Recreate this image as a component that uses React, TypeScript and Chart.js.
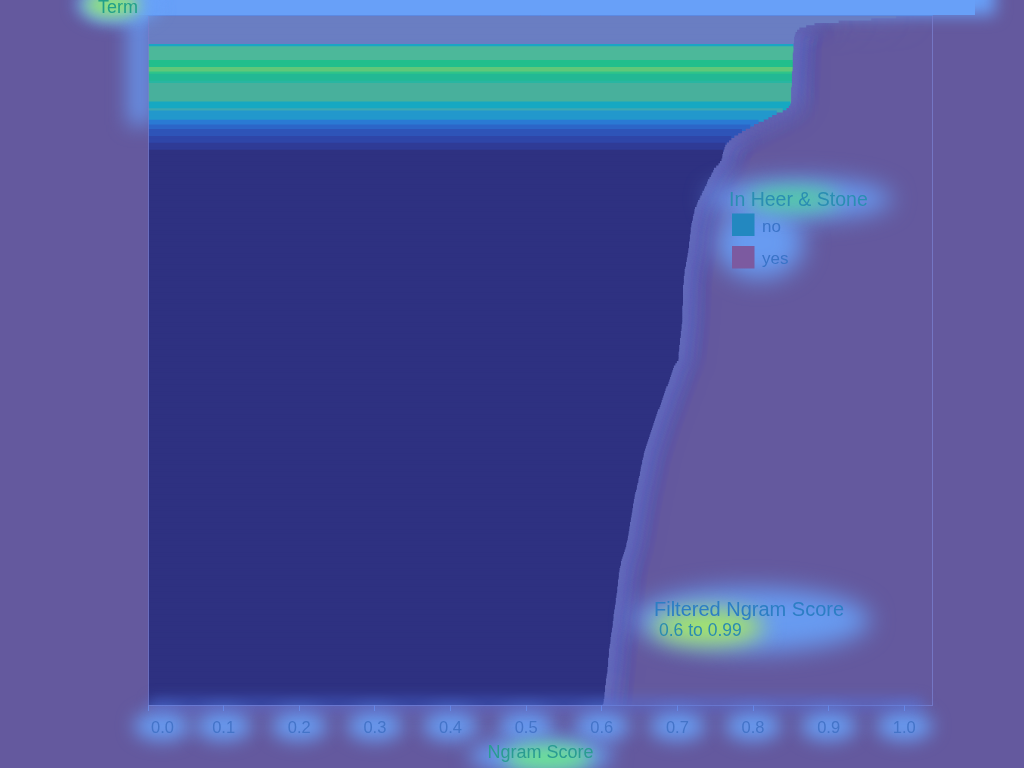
import React, { useEffect, useRef } from "react";
import { Chart, registerables } from "chart.js";

Chart.register(...registerables);

// Ngram score per term, sorted descending (top bar first)
const SCORES: number[] = [
  0.988, 0.955, 0.912, 0.880, 0.869, 0.860, 0.857, 0.855, 0.854, 0.853,
  0.853, 0.853, 0.852, 0.852, 0.852, 0.852, 0.851, 0.851, 0.851, 0.851,
  0.851, 0.851, 0.851, 0.851, 0.850, 0.850, 0.850, 0.850, 0.850, 0.850,
  0.850, 0.849, 0.849, 0.849, 0.849, 0.849, 0.849, 0.849, 0.848, 0.846,
  0.843, 0.838, 0.830, 0.824, 0.819, 0.813, 0.806, 0.800, 0.795, 0.789,
  0.784, 0.779, 0.774, 0.770, 0.767, 0.764, 0.762, 0.761, 0.760, 0.759,
  0.758, 0.758, 0.757, 0.755, 0.753, 0.750, 0.747, 0.746, 0.744, 0.743,
  0.741, 0.739, 0.738, 0.737, 0.735, 0.734, 0.732, 0.731, 0.729, 0.728,
  0.726, 0.725, 0.724, 0.722, 0.721, 0.721, 0.720, 0.719, 0.719, 0.718,
  0.717, 0.717, 0.716, 0.716, 0.716, 0.715, 0.715, 0.715, 0.714, 0.714,
  0.714, 0.713, 0.713, 0.712, 0.712, 0.711, 0.711, 0.710, 0.710, 0.709,
  0.708, 0.708, 0.708, 0.707, 0.707, 0.707, 0.707, 0.706, 0.706, 0.706,
  0.706, 0.706, 0.706, 0.706, 0.706, 0.706, 0.705, 0.705, 0.705, 0.705,
  0.705, 0.705, 0.705, 0.705, 0.704, 0.704, 0.704, 0.703, 0.703, 0.703,
  0.702, 0.702, 0.702, 0.701, 0.701, 0.701, 0.700, 0.700, 0.700, 0.700,
  0.698, 0.696, 0.694, 0.693, 0.692, 0.691, 0.690, 0.689, 0.688, 0.687,
  0.686, 0.684, 0.683, 0.682, 0.681, 0.680, 0.679, 0.678, 0.677, 0.676,
  0.675, 0.673, 0.672, 0.671, 0.670, 0.669, 0.668, 0.667, 0.666, 0.665,
  0.664, 0.663, 0.662, 0.661, 0.660, 0.659, 0.658, 0.657, 0.656, 0.655,
  0.654, 0.654, 0.653, 0.652, 0.652, 0.651, 0.650, 0.650, 0.649, 0.649,
  0.648, 0.647, 0.647, 0.646, 0.645, 0.645, 0.644, 0.643, 0.642, 0.642,
  0.641, 0.641, 0.640, 0.640, 0.639, 0.639, 0.638, 0.638, 0.637, 0.637,
  0.636, 0.636, 0.635, 0.635, 0.634, 0.634, 0.633, 0.633, 0.632, 0.631,
  0.631, 0.630, 0.629, 0.628, 0.627, 0.626, 0.625, 0.624, 0.624, 0.623,
  0.622, 0.622, 0.621, 0.621, 0.621, 0.620, 0.620, 0.620, 0.619, 0.619,
  0.619, 0.618, 0.618, 0.617, 0.617, 0.617, 0.616, 0.616, 0.615, 0.615,
  0.614, 0.614, 0.614, 0.613, 0.613, 0.613, 0.612, 0.612, 0.611, 0.611,
  0.610, 0.610, 0.610, 0.609, 0.609, 0.608, 0.608, 0.608, 0.608, 0.607,
  0.607, 0.607, 0.607, 0.606, 0.606, 0.606, 0.605, 0.605, 0.604, 0.604,
  0.604, 0.603, 0.603, 0.603, 0.602, 0.602, 0.602, 0.601, 0.601, 0.600,
];

// Term categories (labels are not shown on the axis)
const TERMS: string[] = SCORES.map((_, i) => `term ${i + 1}`);

const X_TICKS: number[] = [0, 0.1, 0.2, 0.3, 0.4, 0.5, 0.6, 0.7, 0.8, 0.9, 1.0];
const X_TICK_LABELS: string[] = ["0.0", "0.1", "0.2", "0.3", "0.4", "0.5", "0.6", "0.7", "0.8", "0.9", "1.0"];

const LEGEND_TITLE = "In Heer & Stone";
const LEGEND_LABELS: string[] = ["no", "yes"];
const LEGEND_COLORS: string[] = ["#2388c0", "#7c5aa0"];

const FILTER_TITLE = "Filtered Ngram Score";
const FILTER_RANGE = "0.6 to 0.99";

// visual colour bands of the bars, top to bottom: [count, colour]
const COLOR_BANDS: [number, string][] = [
  [13, "#6a7ec2"], [1, "#1aa6c4"], [6, "#4cb89a"], [3, "#22bf8c"], [2, "#60c87a"],
  [1, "#2ec48a"], [3, "#22b894"], [1, "#28b6a2"], [8, "#48b09c"], [3, "#16a8c2"],
  [1, "#3ea8b2"], [4, "#2298cc"], [2, "#2a7ad4"], [2, "#2c66c8"], [3, "#2e54b8"],
  [3, "#2f46a8"], [3, "#2f3b96"], [241, "#2e3181"],
];
const BAR_COLORS: string[] = COLOR_BANDS.flatMap(([n, c]) => Array(n).fill(c));

const FONT = "'Liberation Sans', Arial, Helvetica, sans-serif";
const GLOW_BLUE = "rgba(104,162,250,0.9)";

function glowEllipse(ctx: CanvasRenderingContext2D, cx: number, cy: number, rx: number, ry: number, color: string, blur: number) {
  ctx.save();
  ctx.filter = `blur(${blur}px)`;
  ctx.fillStyle = color;
  ctx.beginPath();
  ctx.ellipse(cx, cy, rx, ry, 0, 0, Math.PI * 2);
  ctx.fill();
  ctx.restore();
}

function glowBox(ctx: CanvasRenderingContext2D, x: number, y: number, w: number, h: number, color: string, blur: number) {
  ctx.save();
  ctx.filter = `blur(${blur}px)`;
  ctx.fillStyle = color;
  ctx.fillRect(x, y, w, h);
  ctx.restore();
}

function text(ctx: CanvasRenderingContext2D, s: string, x: number, y: number, size: number, color: string, align: CanvasTextAlign) {
  ctx.save();
  ctx.font = `${size}px ${FONT}`;
  ctx.textAlign = align;
  ctx.textBaseline = "alphabetic";
  ctx.fillStyle = color;
  ctx.fillText(s, x, y);
  ctx.restore();
}

const decorPlugin = {
  id: "decor",
  beforeDraw(chart: any) {
    const ctx: CanvasRenderingContext2D = chart.ctx;
    const a = chart.chartArea;
    // top band glow
    glowBox(ctx, 95, -30, 900, a.top + 30, "rgba(104,160,248,1)", 8);
    ctx.save();
    ctx.fillStyle = "rgba(104,160,248,1)";
    ctx.fillRect(110, 0, 865, a.top);
    ctx.restore();
    // left edge glow
    glowBox(ctx, a.left - 20, a.top - 10, 24, 120, "rgba(104,160,248,0.8)", 10);
  },
  beforeDatasetDraw(chart: any, args: any) {
    const ctx: CanvasRenderingContext2D = chart.ctx;
    ctx.save();
    if (args.index === 1) ctx.filter = "blur(16px)";
  },
  afterDatasetDraw(chart: any) {
    chart.ctx.restore();
  },
  afterDraw(chart: any) {
    const ctx: CanvasRenderingContext2D = chart.ctx;
    const a = chart.chartArea;
    const xs = chart.scales.x;
    // plot frame
    ctx.save();
    ctx.strokeStyle = "rgba(120,125,205,0.8)";
    ctx.lineWidth = 1;
    ctx.strokeRect(a.left + 0.5, a.top + 0.5, a.right - a.left - 1, a.bottom - a.top);
    ctx.strokeStyle = "rgba(90,140,230,0.9)";
    ctx.beginPath();
    ctx.moveTo(a.left, a.top + 0.5);
    ctx.lineTo(a.right, a.top + 0.5);
    ctx.stroke();
    ctx.restore();

    // glow fields behind the texts
    X_TICKS.forEach((v, i) => {
      const px = xs.getPixelForValue(v) + (i === 0 ? 14 : 0);
      glowEllipse(ctx, px, 726, 28, 15, GLOW_BLUE, 9);
    });
    glowBox(ctx, 150, a.bottom - 6, a.right - 160, 10, "rgba(80,120,235,0.55)", 7);
    glowEllipse(ctx, 541, 756, 72, 18, GLOW_BLUE, 10);
    glowEllipse(ctx, 548, 758, 44, 13, "rgba(110,232,140,0.95)", 9);
    glowEllipse(ctx, 118, 4, 42, 20, GLOW_BLUE, 8);
    glowEllipse(ctx, 112, 5, 28, 12, "rgba(150,235,110,0.95)", 8);

    glowEllipse(ctx, 800, 199, 92, 20, GLOW_BLUE, 12);
    glowEllipse(ctx, 760, 243, 44, 36, GLOW_BLUE, 12);
    glowEllipse(ctx, 793, 199, 46, 11, "rgba(80,215,150,0.9)", 10);

    glowEllipse(ctx, 752, 620, 118, 32, GLOW_BLUE, 12);
    glowEllipse(ctx, 708, 627, 55, 17, "rgba(170,235,95,0.95)", 11);

    // x tick labels (first flush left)
    X_TICKS.forEach((v, i) => {
      const px = xs.getPixelForValue(v);
      const first = i === 0;
      text(ctx, X_TICK_LABELS[i], first ? px + 3 : px, 733, 16.5, "#4474c8", first ? "left" : "center");
    });
    // axis titles
    text(ctx, "Ngram Score", (a.left + a.right) / 2, 758, 18, "#2a9c92", "center");
    text(ctx, "Term", 98, 12.5, 18, "#22a08a", "left");

    // legend
    text(ctx, LEGEND_TITLE, 729, 206, 19.5, "#2a8eb2", "left");
    LEGEND_LABELS.forEach((lab, i) => {
      const y0 = 213.5 + i * 32.5;
      ctx.save();
      ctx.fillStyle = LEGEND_COLORS[i];
      ctx.fillRect(732, y0, 22.5, 22.5);
      ctx.restore();
      text(ctx, lab, 762, y0 + 18.3, 17, "#3a74c8", "left");
    });

    // filter annotation
    text(ctx, FILTER_TITLE, 654, 616, 20, "#2c7ec4", "left");
    text(ctx, FILTER_RANGE, 659, 636, 17.5, "#2a8cb0", "left");
  },
};

export default function App() {
  const ref = useRef<HTMLCanvasElement | null>(null);
  useEffect(() => {
    if (!ref.current) return;
    const chart = new Chart(ref.current, {
      type: "bar",
      data: {
        labels: TERMS,
        datasets: [
          {
            label: "Ngram Score",
            data: SCORES,
            backgroundColor: BAR_COLORS,
            borderWidth: 0,
            barPercentage: 1,
            categoryPercentage: 1,
            inflateAmount: 1,
            grouped: false,
            order: 1,
          },
          {
            // soft halo around the end of each bar (drawn underneath)
            label: "halo",
            data: SCORES.map((v) => [v - 0.03, v + 0.02]),
            backgroundColor: "rgba(125,160,255,0.45)",
            borderWidth: 0,
            barPercentage: 1,
            categoryPercentage: 1,
            grouped: false,
            order: 2,
          },
        ],
      },
      options: {
        indexAxis: "y",
        responsive: false,
        animation: false,
        devicePixelRatio: 1,
        layout: { padding: { top: 15, right: 91, left: 0, bottom: 0 } },
        scales: {
          x: {
            type: "linear",
            min: 0,
            max: 1.038,
            afterBuildTicks: (s: any) => {
              s.ticks = X_TICKS.map((v) => ({ value: v }));
            },
            afterFit: (s: any) => {
              s.height = 63;
            },
            ticks: { display: false },
            grid: { display: true, drawOnChartArea: false, drawTicks: true, tickLength: 6, color: "rgba(112,136,225,0.9)" },
            border: { display: false },
          },
          y: {
            type: "category",
            afterFit: (s: any) => {
              s.width = 148;
            },
            ticks: { display: false },
            grid: { display: false },
            border: { display: false },
          },
        },
        plugins: { legend: { display: false }, tooltip: { enabled: false } },
      },
      plugins: [decorPlugin],
    } as any);
    return () => chart.destroy();
  }, []);
  return (
    <div style={{ position: "fixed", left: 0, top: 0, width: 1024, height: 768, background: "#64599e" }}>
      <canvas ref={ref} width={1024} height={768} style={{ display: "block" }} />
    </div>
  );
}
